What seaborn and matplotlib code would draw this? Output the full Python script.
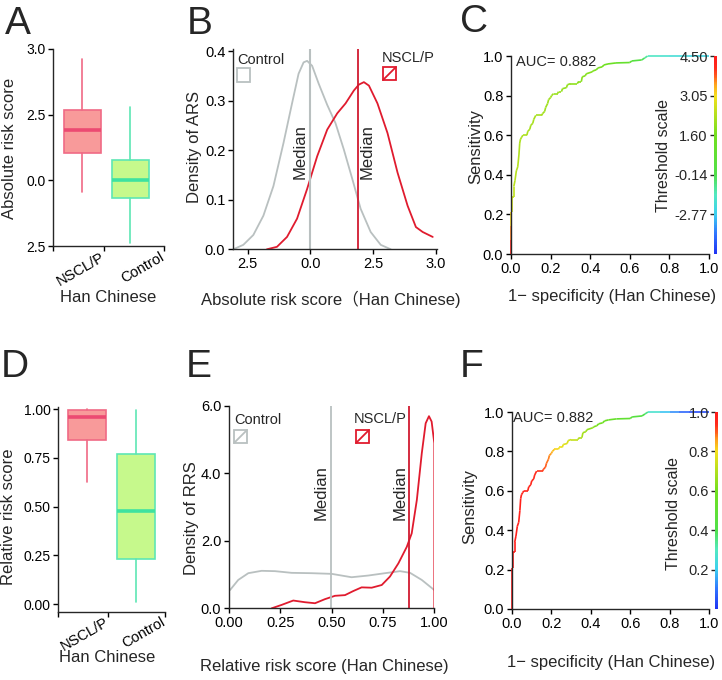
import matplotlib
matplotlib.use("Agg")
import matplotlib.pyplot as plt
import matplotlib.cm as cm
import matplotlib.transforms as mtrans
import numpy as np
import seaborn as sns
from matplotlib.collections import LineCollection
from matplotlib.colors import LinearSegmentedColormap, Normalize
from matplotlib.patches import Rectangle
from matplotlib.lines import Line2D

sns.set_style("ticks")
plt.rcParams["font.family"] = ["Liberation Sans", "Noto Sans CJK SC", "DejaVu Sans"]
plt.rcParams["axes.linewidth"] = 1.0

# ---------------- data ----------------
groups = ["NSCL/P", "Control"]

# A: absolute risk score boxes (whislo, q1, med, q3, whishi)
ars_nsclp = [-0.46, 1.05, 1.90, 2.67, 4.62]
ars_control = [-2.40, -0.69, 0.00, 0.79, 2.78]

# D: relative risk score boxes
rrs_nsclp = [0.625, 0.841, 0.959, 0.993, 1.00]
rrs_control = [0.01, 0.232, 0.48, 0.77, 0.997]

# B: density of ARS
ars_ctrl_x = [-3.07, -2.67, -2.27, -1.87, -1.47, -1.07, -0.73, -0.47, -0.27, -0.13,
              0.07, 0.33, 0.67, 1.00, 1.33, 1.67, 2.00, 2.40, 2.80, 3.20]
ars_ctrl_y = [0.000, 0.009, 0.029, 0.068, 0.128, 0.215, 0.295, 0.355, 0.378, 0.381,
              0.371, 0.335, 0.292, 0.255, 0.202, 0.142, 0.082, 0.035, 0.009, 0.000]
ars_case_x = [-1.73, -1.33, -0.93, -0.53, -0.13, 0.27, 0.67, 1.07, 1.40, 1.73,
              1.93, 2.13, 2.33, 2.67, 3.07, 3.47, 3.87, 4.20, 4.47, 4.87]
ars_case_y = [0.000, 0.005, 0.025, 0.062, 0.122, 0.188, 0.242, 0.275, 0.295, 0.321,
              0.333, 0.338, 0.331, 0.295, 0.235, 0.155, 0.088, 0.045, 0.035, 0.025]
ars_medians = [0.0, 1.90]

# E: density of RRS
rrs_ctrl_x = [0.005, 0.045, 0.094, 0.159, 0.224, 0.305, 0.402, 0.500, 0.597, 0.678,
              0.760, 0.833, 0.882, 0.939, 1.000]
rrs_ctrl_y = [0.54, 0.84, 1.04, 1.11, 1.10, 1.05, 1.04, 1.02, 0.92, 0.97,
              1.04, 1.10, 1.05, 0.84, 0.54]
rrs_case_x = [0.208, 0.256, 0.313, 0.370, 0.419, 0.467, 0.516, 0.565, 0.605, 0.646,
              0.695, 0.744, 0.784, 0.825, 0.866, 0.890, 0.915, 0.939, 0.958, 0.974,
              0.987, 1.000, 1.000]
rrs_case_y = [0.00, 0.10, 0.23, 0.18, 0.15, 0.27, 0.37, 0.39, 0.51, 0.62,
              0.61, 0.69, 0.94, 1.33, 1.82, 2.22, 3.21, 4.59, 5.48, 5.69,
              5.53, 4.89, 0.00]
rrs_medians = [0.497, 0.877]

# C / F: ROC curve
roc_fpr = [0.000, 0.000, 0.000, 0.000, 0.007, 0.007, 0.014, 0.014, 0.020, 0.027,
           0.034, 0.040, 0.044, 0.048, 0.054, 0.060, 0.080, 0.085, 0.095, 0.100,
           0.110, 0.115, 0.125, 0.155, 0.160, 0.170, 0.175, 0.185, 0.190, 0.200,
           0.205, 0.215, 0.235, 0.240, 0.255, 0.260, 0.280, 0.285, 0.300, 0.335,
           0.340, 0.355, 0.360, 0.375, 0.380, 0.410, 0.415, 0.430, 0.440, 0.460,
           0.470, 0.490, 0.530, 0.600, 0.610, 0.660, 0.675, 0.690, 0.750, 0.800,
           0.850, 0.900, 1.000]
roc_tpr = [0.00, 0.07, 0.14, 0.21, 0.21, 0.29, 0.29, 0.34, 0.37, 0.42,
           0.44, 0.50, 0.56, 0.58, 0.59, 0.60, 0.60, 0.62, 0.63, 0.65,
           0.66, 0.68, 0.70, 0.70, 0.71, 0.72, 0.74, 0.76, 0.78, 0.79,
           0.80, 0.81, 0.81, 0.82, 0.82, 0.835, 0.84, 0.855, 0.86, 0.86,
           0.87, 0.87, 0.895, 0.90, 0.91, 0.92, 0.925, 0.93, 0.94, 0.945,
           0.955, 0.96, 0.965, 0.967, 0.975, 0.98, 0.99, 1.00, 1.00, 1.00,
           1.00, 1.00, 1.00]
# position on threshold colour scale (C: ARS thresholds, F: RRS thresholds)
c_scale = [1.00, 0.92, 0.84, 0.78, 0.75, 0.73, 0.72, 0.71, 0.71, 0.70,
           0.70, 0.70, 0.69, 0.69, 0.69, 0.69, 0.69, 0.69, 0.68, 0.68,
           0.68, 0.68, 0.68, 0.68, 0.68, 0.67, 0.67, 0.67, 0.67, 0.67,
           0.67, 0.66, 0.66, 0.66, 0.66, 0.65, 0.65, 0.65, 0.65, 0.64,
           0.64, 0.64, 0.63, 0.63, 0.63, 0.62, 0.62, 0.61, 0.61, 0.60,
           0.59, 0.58, 0.56, 0.50, 0.47, 0.41, 0.36, 0.30, 0.28, 0.26,
           0.25, 0.24, 0.22]
f_thresh = [1.00, 1.00, 0.99, 0.99, 0.99, 0.98, 0.98, 0.98, 0.98, 0.97,
            0.97, 0.97, 0.97, 0.96, 0.96, 0.96, 0.96, 0.95, 0.95, 0.95,
            0.95, 0.94, 0.94, 0.92, 0.91, 0.90, 0.89, 0.88, 0.87, 0.85,
            0.84, 0.82, 0.80, 0.79, 0.78, 0.77, 0.76, 0.75, 0.74, 0.71,
            0.70, 0.69, 0.68, 0.67, 0.66, 0.64, 0.63, 0.61, 0.60, 0.58,
            0.57, 0.55, 0.53, 0.49, 0.47, 0.42, 0.38, 0.32, 0.22, 0.16,
            0.10, 0.06, 0.02]
auc_text = "AUC= 0.882"
c_cbar_labels = ["-2.77", "-0.14", "1.60", "3.05", "4.50"]
f_cbar_labels = ["0.2", "0.4", "0.6", "0.8", "1.0"]

# ---------------- styling ----------------
W, H = 722, 680
PINK_FACE, PINK_EDGE, PINK_MED = "#f89a9a", "#f06a85", "#ec4a72"
GREEN_FACE, GREEN_EDGE, GREEN_MED = "#c6f98c", "#5ee6b4", "#3ee2a0"
GRAY, RED = "#b9c0c0", "#e01b2e"

threshold_cmap = LinearSegmentedColormap.from_list(
    "thr",
    [(0.00, "#1f33f2"), (0.10, "#2f74ff"), (0.20, "#3ccff0"), (0.30, "#52e8c0"),
     (0.40, "#4fe04a"), (0.60, "#72e01e"), (0.70, "#b2e01e"), (0.80, "#f5e01c"),
     (0.86, "#ffa01c"), (0.90, "#ff5a1c"), (0.94, "#ff2a1c"), (1.00, "#ff1a1a")])


def rect(l, t, r, b):
    return [l / W, 1 - b / H, (r - l) / W, (b - t) / H]


def fpt(x, y):
    return x / W, 1 - y / H


def label(fig, x, y, s, size=12, rot=0, ha="center", va="center", **kw):
    fig.text(*fpt(x, y), s, ha=ha, va=va, rotation=rot, fontsize=size, **kw)


def style_axes(ax, size=10):
    sns.despine(ax=ax)
    ax.tick_params(direction="out", length=3.5, width=1, labelsize=size, pad=2,
                   colors="black")


def group_ticks(fig, ax, ticks):
    ax.set_xticks(ticks, [""] + groups, rotation=30, ha="right",
                  rotation_mode="anchor", fontsize=10.5)
    off = mtrans.ScaledTranslation(-4 / 100, 4 / 100, fig.dpi_scale_trans)
    for lab in ax.get_xticklabels():
        lab.set_transform(lab.get_transform() + off)


def draw_box(ax, stats, pos, face, edge, med, width):
    st = [dict(whislo=stats[0], q1=stats[1], med=stats[2], q3=stats[3],
               whishi=stats[4], fliers=[])]
    ax.bxp(st, positions=[pos], widths=width, patch_artist=True, showcaps=False,
           showfliers=False,
           boxprops=dict(facecolor=face, edgecolor=edge, linewidth=1.2),
           whiskerprops=dict(color=edge, linewidth=1.2),
           medianprops=dict(color=med, linewidth=2.6))


def legend_box(fig, x0, y0, x1, y1, color, diag):
    xa, ya = fpt(x0, y1)
    xb, yb = fpt(x1, y0)
    fig.add_artist(Rectangle((xa, ya), xb - xa, yb - ya, transform=fig.transFigure,
                             fill=False, edgecolor=color, linewidth=1.3))
    if diag:
        fig.add_artist(Line2D([xa, xb], [ya, yb], transform=fig.transFigure,
                              color=color, linewidth=1.3))


def draw_roc(ax, vals):
    pts = np.column_stack([roc_fpr, roc_tpr])
    segs = np.stack([pts[:-1], pts[1:]], axis=1)
    v = np.asarray(vals)
    lc = LineCollection(segs, cmap=threshold_cmap, norm=Normalize(0, 1),
                        linewidth=1.2, clip_on=False)
    lc.set_array((v[:-1] + v[1:]) / 2)
    ax.add_collection(lc)


def threshold_bar(fig, box, labels):
    cax = fig.add_axes(rect(*box))
    sm = cm.ScalarMappable(norm=Normalize(0, 1), cmap=threshold_cmap)
    cb = fig.colorbar(sm, cax=cax)
    cb.outline.set_visible(False)
    cax.yaxis.set_ticks_position("left")
    cb.set_ticks([0.2, 0.4, 0.6, 0.8, 1.0])
    cb.set_ticklabels(labels)
    cax.tick_params(direction="out", length=3, width=1, labelsize=10.5, pad=1.5)


fig = plt.figure(figsize=(W / 100, H / 100), dpi=100)

# ---------------- A ----------------
axA = fig.add_axes(rect(53, 49, 164, 246))
draw_box(axA, ars_nsclp, 0, PINK_FACE, PINK_EDGE, PINK_MED, 0.77)
draw_box(axA, ars_control, 1, GREEN_FACE, GREEN_EDGE, GREEN_MED, 0.77)
axA.set_xlim(-0.615, 1.70)
axA.set_ylim(-2.5, 5.0)
axA.set_yticks([5.0, 2.5, 0.0, -2.5], ["3.0", "2.5", "0.0", "2.5"])
style_axes(axA, 10)
group_ticks(fig, axA, [-0.615, 0.45, 1.70])

# ---------------- B ----------------
axB = fig.add_axes(rect(233, 49, 437, 249.3))
sns.lineplot(x=ars_ctrl_x, y=ars_ctrl_y, ax=axB, color=GRAY, lw=1.3,
             estimator=None, sort=False)
sns.lineplot(x=ars_case_x, y=ars_case_y, ax=axB, color=RED, lw=1.3,
             estimator=None, sort=False)
axB.axvline(ars_medians[0], color=GRAY, lw=1.5)
axB.axvline(ars_medians[1], color="#d11a30", lw=1.3)
axB.set_xlim(-3.08, 5.04)
axB.set_ylim(0, 0.405)
axB.set_yticks([0.0, 0.1, 0.2, 0.3, 0.4])
axB.set_xticks([-2.5, 0.0, 2.5, 5.0], ["2.5", "0.0", "2.5", "3.0"])
style_axes(axB, 10.5)

# ---------------- C ----------------
axC = fig.add_axes(rect(511, 56, 709, 254))
draw_roc(axC, c_scale)
axC.set_xlim(0, 1)
axC.set_ylim(0, 1)
axC.set_xticks(np.arange(0, 1.01, 0.2))
axC.set_yticks(np.arange(0, 1.01, 0.2))
axC.xaxis.set_major_formatter("{x:.1f}")
axC.yaxis.set_major_formatter("{x:.1f}")
style_axes(axC, 10.5)
threshold_bar(fig, (714, 56, 717, 254), c_cbar_labels)

# ---------------- D ----------------
axD = fig.add_axes(rect(58.3, 406.7, 165, 611.7))
draw_box(axD, rrs_nsclp, 0, PINK_FACE, PINK_EDGE, PINK_MED, 0.78)
draw_box(axD, rrs_control, 1, GREEN_FACE, GREEN_EDGE, GREEN_MED, 0.78)
axD.set_xlim(-0.586, 1.59)
axD.set_ylim(-0.038, 1.012)
axD.set_yticks([0, 0.25, 0.5, 0.75, 1.0])
axD.yaxis.set_major_formatter("{x:.2f}")
style_axes(axD, 10)
group_ticks(fig, axD, [-0.586, 0.43, 1.59])

# ---------------- E ----------------
axE = fig.add_axes(rect(229, 405.7, 434.3, 608.3))
sns.lineplot(x=rrs_ctrl_x, y=rrs_ctrl_y, ax=axE, color=GRAY, lw=1.3,
             estimator=None, sort=False)
sns.lineplot(x=rrs_case_x, y=rrs_case_y, ax=axE, color=RED, lw=1.3,
             estimator=None, sort=False)
axE.axvline(rrs_medians[0], color=GRAY, lw=1.3)
axE.axvline(rrs_medians[1], color="#d11a30", lw=1.3)
axE.set_xlim(0, 1.0)
axE.set_ylim(0, 6.0)
axE.set_yticks([0, 2, 4, 6])
axE.yaxis.set_major_formatter("{x:.1f}")
axE.set_xticks([0, 0.25, 0.5, 0.75, 1.0])
axE.xaxis.set_major_formatter("{x:.2f}")
style_axes(axE, 10.5)

# ---------------- F ----------------
axF = fig.add_axes(rect(512, 412, 709, 609))
draw_roc(axF, f_thresh)
axF.set_xlim(0, 1)
axF.set_ylim(0, 1)
axF.set_xticks(np.arange(0, 1.01, 0.2))
axF.set_yticks(np.arange(0, 1.01, 0.2))
axF.xaxis.set_major_formatter("{x:.1f}")
axF.yaxis.set_major_formatter("{x:.1f}")
style_axes(axF, 10.5)
threshold_bar(fig, (715, 412, 718, 609), f_cbar_labels)

# ---------------- texts ----------------
for letter, x, y in [("A", 18, 24), ("B", 200, 24), ("C", 474, 22),
                     ("D", 15, 367), ("E", 199, 367), ("F", 472, 367)]:
    label(fig, x, y, letter, size=28)

label(fig, 10, 148, "Absolute risk score", rot=90)
label(fig, 108, 298, "Han Chinese")
label(fig, 195, 147, "Density of ARS", rot=90)
label(fig, 331, 299, "Absolute risk score（Han Chinese)")
label(fig, 476, 146, "Sensitivity", rot=90)
label(fig, 612, 296, "1− specificity (Han Chinese)")
label(fig, 9, 517, "Relative risk score", rot=90)
label(fig, 107, 657, "Han Chinese")
label(fig, 191, 518, "Density of RRS", rot=90)
label(fig, 324, 666, "Relative risk score (Han Chinese)")
label(fig, 470, 507, "Sensitivity", rot=90)
label(fig, 611, 663, "1− specificity (Han Chinese)")

label(fig, 663, 155, "Threshold scale", size=11.5, rot=90)
label(fig, 674, 513, "Threshold scale", size=11.5, rot=90)
label(fig, 516, 62, auc_text, size=10.5, ha="left")
label(fig, 513, 418, auc_text, size=10.5, ha="left")

# median markers
label(fig, 300, 152, "Median", rot=90)
label(fig, 367, 152, "Median", rot=90)
label(fig, 321, 493, "Median", rot=90)
label(fig, 400, 493, "Median", rot=90)

# group keys
label(fig, 237, 60, "Control", size=10.5, ha="left")
label(fig, 382, 58, "NSCL/P", size=10.5, ha="left")
legend_box(fig, 237, 68, 250, 82, GRAY, False)
legend_box(fig, 383, 67, 396, 80, RED, True)
label(fig, 234, 420, "Control", size=10.5, ha="left")
label(fig, 354, 419, "NSCL/P", size=10.5, ha="left")
legend_box(fig, 234, 430, 247, 443, GRAY, True)
legend_box(fig, 356, 430, 369, 443, RED, True)

fig.savefig("out.png", dpi=100)
